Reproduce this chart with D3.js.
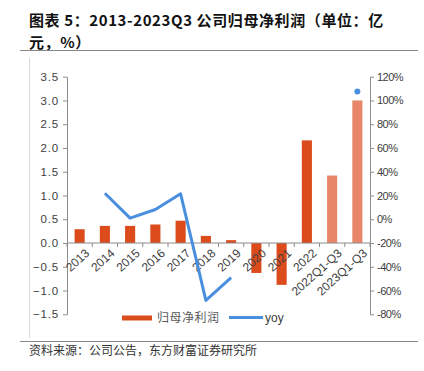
<!DOCTYPE html>
<html><head><meta charset="utf-8">
<script src="https://cdn.jsdelivr.net/npm/d3@7"></script>
<style>
body{margin:0;background:#fff;}
svg{display:block;}
</style></head>
<body>
<svg id="c" width="424" height="371"></svg>
<script>
const categories = ["2013","2014","2015","2016","2017","2018","2019","2020","2021","2022","2022Q1-Q3","2023Q1-Q3"];
const profit = [0.29,0.36,0.36,0.39,0.47,0.15,0.06,-0.63,-0.88,2.16,1.42,3.0];
const yoy = [null,21.9,0.9,8.2,21.4,-68.2,-49.2,null,null,null,null,107.6];
const lightBars = ["2022Q1-Q3","2023Q1-Q3"];
const leftTicks = [3.5,3.0,2.5,2.0,1.5,1.0,0.5,0.0,-0.5,-1.0,-1.5];
const rightTicks = [120,100,80,60,40,20,0,-20,-40,-60,-80];
const titleLines = ["图表 5：2013-2023Q3 公司归母净利润（单位：亿","元，%）"];
const legendNames = ["归母净利润","yoy"];
const source = "资料来源：公司公告，东方财富证券研究所";

const svg = d3.select("#c");
const numFont = "'Liberation Sans', Arial, sans-serif";
const cjkFont = "'Noto Sans CJK SC', sans-serif";
const textCol = "#404040";
const axisCol = "#8c8c8c";
const dark = "#DC4B1C", light = "#E8866A", blue = "#4A8FDF";

// title
const t = svg.append("text").attr("x",29).attr("font-family",cjkFont)
  .attr("font-size",15).attr("font-weight","bold").attr("fill","#111").attr("letter-spacing","0.6px");
titleLines.forEach((l,i)=> t.append("tspan").attr("x",29).attr("y",26+i*22).text(l));
svg.append("line").attr("x1",20).attr("x2",418).attr("y1",50.5).attr("y2",50.5).attr("stroke","#888").attr("stroke-width",1.2);
svg.append("line").attr("x1",20).attr("x2",418).attr("y1",341.5).attr("y2",341.5).attr("stroke","#888").attr("stroke-width",1.2);
svg.append("line").attr("x1",29.5).attr("x2",29.5).attr("y1",58).attr("y2",338).attr("stroke","#d8d8d8").attr("stroke-width",1);
svg.append("text").attr("x",29).attr("y",355).attr("font-family",cjkFont).attr("font-size",12).attr("fill","#333").text(source);

const x0 = 67, x1 = 370;
const x = d3.scaleBand().domain(categories).range([x0,x1]).paddingInner(0.6).paddingOuter(0.3);
const yL = d3.scaleLinear().domain([-1.5,3.5]).range([314.3,76.7]);
const yR = d3.scaleLinear().domain([-80,120]).range([314.3,76.7]);

// left axis
const gl = svg.append("g").attr("transform",`translate(${x0},0)`)
  .call(d3.axisLeft(yL).tickValues(leftTicks).tickFormat(d3.format(".1f")).tickSize(4).tickSizeOuter(0));
gl.selectAll("path,line").attr("stroke",axisCol);
gl.selectAll("text").attr("font-family",numFont).attr("font-size",11.5).attr("fill",textCol).attr("x",-8).attr("letter-spacing","0.8px");

// right axis
const gr = svg.append("g").attr("transform",`translate(${x1},0)`)
  .call(d3.axisRight(yR).tickValues(rightTicks).tickFormat(d=>d+"%").tickSize(4).tickSizeOuter(0));
gr.selectAll("path,line").attr("stroke",axisCol);
gr.selectAll("text").attr("font-family",numFont).attr("font-size",11).attr("fill",textCol).attr("letter-spacing","-0.5px");

// bars
svg.append("g").selectAll("rect").data(categories).join("rect")
  .attr("x",d=>x(d)).attr("width",x.bandwidth())
  .attr("y",(d,i)=>yL(Math.max(0,profit[i])))
  .attr("height",(d,i)=>Math.abs(yL(profit[i])-yL(0)))
  .attr("fill",d=>lightBars.includes(d)?light:dark);

// x axis at zero
const gx = svg.append("g").attr("transform",`translate(0,${yL(0)})`);
gx.append("line").attr("x1",x0).attr("x2",x1).attr("stroke",axisCol);
const step = (x1-x0)/categories.length;
gx.selectAll("line.tk").data(d3.range(categories.length+1)).join("line").attr("class","tk")
  .attr("x1",i=>x0+i*step).attr("x2",i=>x0+i*step).attr("y1",0).attr("y2",4).attr("stroke",axisCol);
gx.selectAll("text").data(categories).join("text")
  .attr("transform",d=>`translate(${x(d)+x.bandwidth()/2+5},${5}) rotate(-42)`)
  .attr("text-anchor","end").attr("dy","0.7em")
  .attr("font-family",numFont).attr("font-size",12).attr("fill",textCol)
  .text(d=>d);

// yoy line
const cx = d=>x(d)+x.bandwidth()/2;
const line = d3.line().defined((d,i)=>yoy[i]!==null).x(d=>cx(d)).y((d,i)=>yR(yoy[i]));
svg.append("path").datum(categories).attr("d",line).attr("fill","none")
  .attr("stroke",blue).attr("stroke-width",3).attr("stroke-linejoin","round");
// isolated points
svg.append("g").selectAll("circle").data(categories.filter((d,i)=>yoy[i]!==null && (i===0||yoy[i-1]===null) && (i===categories.length-1||yoy[i+1]===null)))
  .join("circle").attr("cx",cx).attr("cy",d=>yR(yoy[categories.indexOf(d)])).attr("r",3).attr("fill",blue);

// legend
const lg = svg.append("g");
lg.append("rect").attr("x",122).attr("y",315.5).attr("width",30).attr("height",5).attr("fill",dark);
lg.append("text").attr("x",157).attr("y",322).attr("font-family",cjkFont).attr("font-size",12).attr("fill","#595959").attr("letter-spacing","0.5px").text(legendNames[0]);
lg.append("line").attr("x1",229).attr("x2",263).attr("y1",317.5).attr("y2",317.5).attr("stroke",blue).attr("stroke-width",3);
lg.append("text").attr("x",265).attr("y",322).attr("font-family",numFont).attr("font-size",12).attr("fill","#404040").text(legendNames[1]);
</script>
</body></html>
